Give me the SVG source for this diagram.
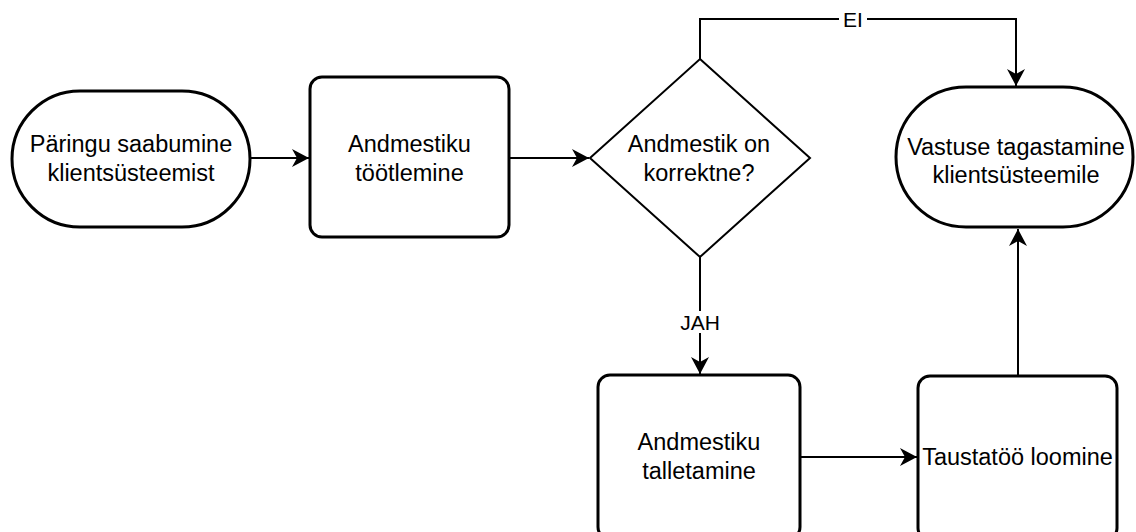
<svg xmlns="http://www.w3.org/2000/svg" width="1136" height="532" viewBox="0 0 1136 532">
  <style>
    .shape { fill: #ffffff; stroke: #000000; stroke-width: 3; }
    .decision { fill: #ffffff; stroke: #000000; stroke-width: 2; }
    .label { font-family: "Liberation Sans", Arial, sans-serif; font-size: 23.5px; fill: #000000; text-anchor: middle; }
    .edge { fill: none; stroke: #000000; stroke-width: 2; marker-end: url(#arrow); }
    .edge-label { font-family: "Liberation Sans", Arial, sans-serif; font-size: 21px; fill: #000000; text-anchor: middle; }
    .label-bg { fill: #ffffff; stroke: none; }
  </style>
  <defs>
    <marker id="arrow" markerUnits="userSpaceOnUse" markerWidth="18" markerHeight="18" viewBox="0 0 18 18" refX="17" refY="9" orient="auto">
      <path d="M0,0 L17,9 L0,18 L5,9 Z" fill="#000000"/>
    </marker>
  </defs>
  <rect width="1136" height="532" fill="#ffffff"/>

  <!-- connectors -->
  <g id="connectors">
    <path class="edge" d="M250,158 L309,158"/>
    <path class="edge" d="M509,158 L589,158"/>
    <path class="edge" d="M700,59 L700,19 L1016,19 L1016,86"/>
    <rect class="label-bg" x="839" y="8" width="28" height="22"/>
    <text class="edge-label" x="853" y="26.5">EI</text>
    <path class="edge" d="M700,257 L700,374"/>
    <rect class="label-bg" x="678" y="311" width="44" height="22"/>
    <text class="edge-label" x="700" y="329.5">JAH</text>
    <path class="edge" d="M800,457 L917,457"/>
    <path class="edge" d="M1018,376 L1018,229"/>
  </g>

  <!-- start terminator -->
  <g id="start">
    <rect class="shape" x="12" y="91" width="238" height="136" rx="68" ry="68"/>
    <text class="label" x="131" y="152">Päringu saabumine</text>
    <text class="label" x="131" y="180.5">klientsüsteemist</text>
  </g>

  <!-- processing -->
  <g id="process">
    <rect class="shape" x="310" y="77" width="199" height="160" rx="12" ry="12"/>
    <text class="label" x="409.5" y="152">Andmestiku</text>
    <text class="label" x="409.5" y="180.5">töötlemine</text>
  </g>

  <!-- decision -->
  <g id="decision">
    <polygon class="decision" points="700,59 810,158 700,257 590,158"/>
    <text class="label" x="699" y="152">Andmestik on</text>
    <text class="label" x="699" y="180.5">korrektne?</text>
  </g>

  <!-- end terminator -->
  <g id="end">
    <rect class="shape" x="896" y="87" width="237" height="140" rx="70" ry="70"/>
    <text class="label" x="1016" y="155">Vastuse tagastamine</text>
    <text class="label" x="1016" y="183">klientsüsteemile</text>
  </g>

  <!-- storage -->
  <g id="store">
    <rect class="shape" x="598" y="375" width="202" height="164" rx="12" ry="12"/>
    <text class="label" x="699" y="450">Andmestiku</text>
    <text class="label" x="699" y="478.5">talletamine</text>
  </g>

  <!-- background job -->
  <g id="job">
    <rect class="shape" x="918" y="376" width="199" height="164" rx="12" ry="12"/>
    <text class="label" x="1017.5" y="465">Taustatöö loomine</text>
  </g>
</svg>
